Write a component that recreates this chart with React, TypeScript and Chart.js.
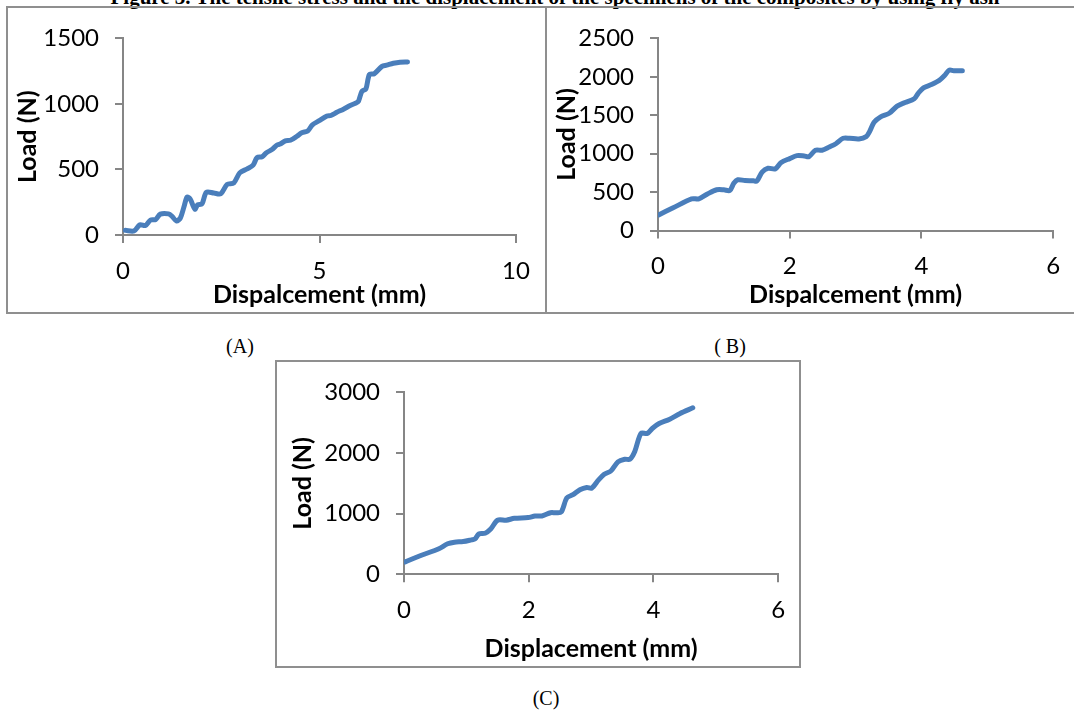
import React, { useEffect, useRef } from "react";
import { Chart, registerables } from "chart.js";

Chart.register(...registerables);

// ---------- data ----------
const aDisp = [0.06, 0.28, 0.43, 0.57, 0.7, 0.83, 0.95, 1.16, 1.25, 1.36, 1.46, 1.55, 1.63, 1.71, 1.83, 1.9, 2.01, 2.12, 2.31, 2.49, 2.65, 2.82, 2.97, 3.16, 3.31, 3.41, 3.54, 3.65, 3.79, 3.92, 4.0, 4.13, 4.26, 4.43, 4.55, 4.7, 4.82, 4.98, 5.19, 5.29, 5.44, 5.61, 5.78, 5.93, 5.99, 6.08, 6.18, 6.27, 6.39, 6.59, 6.71, 6.88, 7.05, 7.24];
const aLoad = [36, 31, 78, 73, 114, 118, 159, 161, 142, 107, 130, 213, 289, 273, 197, 230, 237, 325, 320, 315, 386, 398, 474, 505, 533, 590, 597, 628, 652, 687, 694, 718, 723, 754, 780, 794, 841, 870, 908, 912, 936, 960, 988, 1007, 1019, 1097, 1114, 1225, 1230, 1287, 1296, 1310, 1318, 1320];
const aXTicks = [0, 5, 10];
const aYTicks = [0, 500, 1000, 1500];

const bDisp = [0.01, 0.23, 0.51, 0.62, 0.75, 0.89, 1.0, 1.09, 1.15, 1.21, 1.32, 1.45, 1.5, 1.58, 1.67, 1.78, 1.87, 2.0, 2.11, 2.22, 2.29, 2.39, 2.49, 2.6, 2.7, 2.81, 2.91, 3.05, 3.16, 3.21, 3.28, 3.38, 3.51, 3.63, 3.75, 3.89, 3.95, 4.03, 4.15, 4.27, 4.35, 4.42, 4.49, 4.62];
const bLoad = [203, 295, 412, 412, 475, 530, 530, 521, 614, 660, 651, 647, 643, 760, 810, 802, 886, 936, 974, 970, 961, 1045, 1045, 1087, 1129, 1200, 1200, 1192, 1221, 1284, 1409, 1480, 1526, 1618, 1665, 1715, 1786, 1857, 1899, 1953, 2016, 2087, 2079, 2079];
const bXTicks = [0, 2, 4, 6];
const bYTicks = [0, 500, 1000, 1500, 2000, 2500];

const cDisp = [0.02, 0.28, 0.56, 0.7, 0.81, 0.95, 1.08, 1.14, 1.2, 1.3, 1.39, 1.5, 1.64, 1.77, 1.99, 2.1, 2.21, 2.35, 2.43, 2.52, 2.61, 2.71, 2.82, 2.93, 3.01, 3.12, 3.21, 3.32, 3.43, 3.54, 3.62, 3.7, 3.8, 3.9, 3.98, 4.09, 4.26, 4.42, 4.63];
const cLoad = [205, 314, 422, 503, 530, 540, 568, 584, 665, 676, 746, 892, 892, 924, 935, 962, 962, 1016, 1016, 1027, 1259, 1314, 1395, 1432, 1422, 1557, 1649, 1708, 1854, 1897, 1897, 2027, 2324, 2324, 2405, 2486, 2557, 2649, 2746];
const cXTicks = [0, 2, 4, 6];
const cYTicks = [0, 1000, 2000, 3000];

const BLUE = "#4A7EBB";
const AXIS = "#868686";
const BOX = "#8f8f8f";
const FONT = "Lato, 'Open Sans', 'Noto Sans', sans-serif";
const SERIF = "'Liberation Serif', 'DejaVu Serif', serif";

type PanelSpec = {
  xs: number[];
  ys: number[];
  xTicks: number[];
  yTicks: number[];
  xTitle: string;
  yTitle: string;
  left: number;
  top: number;
  width: number;
  height: number;
  yScaleWidth: number;
  xScaleHeight: number;
  padTop: number;
  padRight: number;
  yTitlePad: number;
  xTitlePad: number;
};

function Panel(p: PanelSpec) {
  const ref = useRef<HTMLCanvasElement | null>(null);
  useEffect(() => {
    if (!ref.current) return;
    const tickFont = { family: FONT, size: 24 };
    const titleFont = { family: FONT, size: 25, weight: "bold" as const };
    const chart = new Chart(ref.current, {
      type: "line",
      data: {
        datasets: [
          {
            data: p.xs.map((x, i) => ({ x, y: p.ys[i] })),
            borderColor: BLUE,
            borderWidth: 5,
            pointRadius: 0,
            tension: 0.3,
            borderCapStyle: "round",
            borderJoinStyle: "round",
            fill: false,
          },
        ],
      },
      options: {
        responsive: false,
        animation: false,
        devicePixelRatio: 1,
        layout: { padding: { top: p.padTop, right: p.padRight, left: 0, bottom: 0 } },
        plugins: { legend: { display: false }, tooltip: { enabled: false } },
        scales: {
          x: {
            type: "linear",
            min: p.xTicks[0],
            max: p.xTicks[p.xTicks.length - 1],
            afterBuildTicks: (s: any) => {
              s.ticks = p.xTicks.map((v) => ({ value: v }));
            },
            afterFit: (s: any) => {
              s.height = p.xScaleHeight;
            },
            ticks: {
              color: "#000",
              font: tickFont,
              padding: 13.8,
              maxRotation: 0,
              autoSkip: false,
              callback: (v: any) => String(v),
            },
            grid: { drawOnChartArea: false, drawTicks: true, tickLength: 8, color: AXIS, lineWidth: 2 },
            border: { display: true, color: AXIS, width: 2 },
            title: {
              display: true,
              text: p.xTitle,
              color: "#000",
              font: titleFont,
              padding: { top: 0, bottom: p.xTitlePad },
            },
          },
          y: {
            type: "linear",
            min: p.yTicks[0],
            max: p.yTicks[p.yTicks.length - 1],
            afterBuildTicks: (s: any) => {
              s.ticks = p.yTicks.map((v) => ({ value: v }));
            },
            afterFit: (s: any) => {
              s.width = p.yScaleWidth;
            },
            ticks: {
              color: "#000",
              font: tickFont,
              padding: 16,
              autoSkip: false,
              callback: (v: any) => String(v),
            },
            grid: { drawOnChartArea: false, drawTicks: true, tickLength: 8, color: AXIS, lineWidth: 2 },
            border: { display: true, color: AXIS, width: 2 },
            title: {
              display: true,
              text: p.yTitle,
              color: "#000",
              font: titleFont,
              padding: { top: p.yTitlePad, bottom: 0 },
            },
          },
        },
      },
    } as any);
    return () => chart.destroy();
  }, []);
  return (
    <canvas
      ref={ref}
      width={p.width}
      height={p.height}
      style={{ position: "absolute", left: p.left, top: p.top, width: p.width, height: p.height }}
    />
  );
}

function Box({ left, top, width, height }: { left: number; top: number; width: number; height: number }) {
  return (
    <div
      style={{
        position: "absolute",
        left,
        top,
        width,
        height,
        border: `2px solid ${BOX}`,
        boxSizing: "border-box",
      }}
    />
  );
}

function Caption({ text, cx, cy }: { text: string; cx: number; cy: number }) {
  return (
    <div
      style={{
        position: "absolute",
        left: cx - 60,
        top: cy - 12,
        width: 120,
        height: 24,
        lineHeight: "24px",
        textAlign: "center",
        fontFamily: SERIF,
        fontSize: 20,
        color: "#000",
        whiteSpace: "pre",
      }}
    >
      {text}
    </div>
  );
}

export default function App() {
  return (
    <div
      style={{
        position: "absolute",
        left: 0,
        top: 0,
        width: 1074,
        height: 714,
        overflow: "hidden",
        background: "#fff",
      }}
    >
      <div
        style={{
          position: "absolute",
          left: 18,
          top: -13,
          width: 1074,
          lineHeight: "20px",
          textAlign: "center",
          fontFamily: SERIF,
          fontWeight: "bold",
          fontSize: 21,
          color: "#000",
          whiteSpace: "nowrap",
        }}
      >
        Figure 3. The tensile stress and the displacement of the specimens of the composites by using fly ash
      </div>
      <Box left={6} top={6} width={541} height={308} />
      <Box left={545} top={6} width={600} height={308} />
      <Box left={275} top={360} width={526} height={308} />
      <Panel
        xs={aDisp}
        ys={aLoad}
        xTicks={aXTicks}
        yTicks={aYTicks}
        xTitle="Dispalcement (mm)"
        yTitle="Load (N)"
        left={8}
        top={8}
        width={537}
        height={304}
        yScaleWidth={115}
        xScaleHeight={77}
        padTop={16}
        padRight={29}
        yTitlePad={4.6}
        xTitlePad={2.4}
      />
      <Panel
        xs={bDisp}
        ys={bLoad}
        xTicks={bXTicks}
        yTicks={bYTicks}
        xTitle="Dispalcement (mm)"
        yTitle="Load (N)"
        left={547}
        top={8}
        width={527}
        height={304}
        yScaleWidth={111}
        xScaleHeight={81.5}
        padTop={23.6}
        padRight={13}
        yTitlePad={5}
        xTitlePad={2.4}
      />
      <Panel
        xs={cDisp}
        ys={cLoad}
        xTicks={cXTicks}
        yTicks={cYTicks}
        xTitle="Displacement (mm)"
        yTitle="Load (N)"
        left={277}
        top={362}
        width={522}
        height={304}
        yScaleWidth={127}
        xScaleHeight={91.7}
        padTop={27.3}
        padRight={20}
        yTitlePad={11}
        xTitlePad={2.4}
      />
      <Caption text="(A)" cx={240} cy={346} />
      <Caption text="( B)" cx={730} cy={346} />
      <Caption text="(C)" cx={546} cy={698} />
    </div>
  );
}
